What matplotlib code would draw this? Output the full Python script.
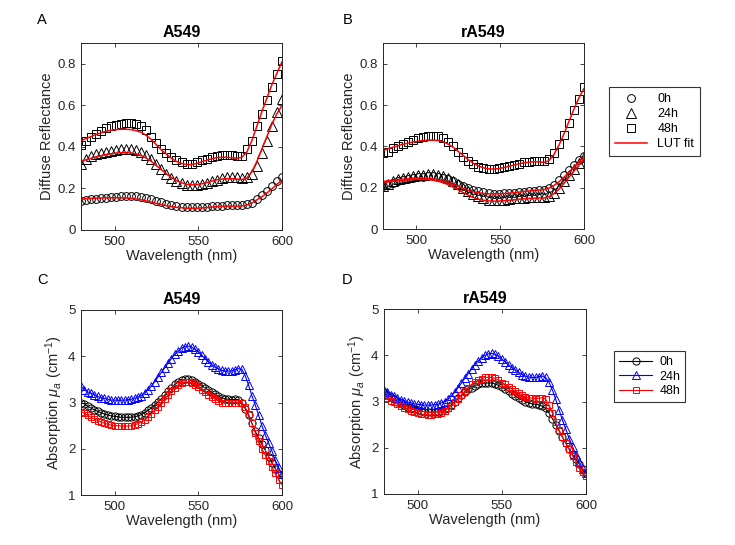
import matplotlib
matplotlib.use("Agg")
import matplotlib.pyplot as plt

plt.rcParams['font.family'] = ['Liberation Sans', 'DejaVu Sans']
plt.rcParams['mathtext.fontset'] = 'custom'
plt.rcParams['mathtext.rm'] = 'Liberation Sans'
plt.rcParams['mathtext.it'] = 'Liberation Sans:italic'

# Wavelength grid of the reflectance spectra (panels A, B)
wavelength = [480, 483, 486, 489, 492, 495, 498, 501, 504, 507, 510, 513, 516, 519, 522,
              525, 528, 531, 534, 537, 540, 543, 546, 549, 552, 555, 558, 561, 564, 567,
              570, 573, 576, 579, 582, 585, 588, 591, 594, 597, 600]

# Wavelength grid of the absorption spectra (panels C, D)
wavelength_abs = [480, 482, 484, 486, 488, 490, 492, 494, 496, 498, 500, 502, 504, 506, 508,
                  510, 512, 514, 516, 518, 520, 522, 524, 526, 528, 530, 532, 534, 536, 538,
                  540, 542, 544, 546, 548, 550, 552, 554, 556, 558, 560, 562, 564, 566, 568,
                  570, 572, 574, 576, 578, 580, 582, 584, 586, 588, 590, 592, 594, 596, 598, 600]

time_labels = ['0h', '24h', '48h']

# Panel A (A549) diffuse reflectance: measured and LUT fit
a549_refl_0h = [0.14, 0.145, 0.15, 0.15, 0.155, 0.155, 0.16, 0.16, 0.165, 0.165, 0.165, 0.165,
                0.16, 0.155, 0.15, 0.14, 0.135, 0.125, 0.12, 0.115, 0.11, 0.11, 0.11, 0.11,
                0.11, 0.11, 0.115, 0.115, 0.115, 0.12, 0.12, 0.12, 0.12, 0.125, 0.13, 0.15,
                0.17, 0.19, 0.21, 0.235, 0.253]
a549_refl_24h = [0.32, 0.34, 0.355, 0.365, 0.37, 0.375, 0.38, 0.385, 0.39, 0.39, 0.39, 0.385,
                 0.375, 0.36, 0.34, 0.32, 0.295, 0.27, 0.25, 0.235, 0.225, 0.215, 0.215, 0.215,
                 0.22, 0.225, 0.235, 0.24, 0.25, 0.255, 0.255, 0.255, 0.25, 0.255, 0.27, 0.31,
                 0.37, 0.43, 0.50, 0.57, 0.63]
a549_refl_48h = [0.41, 0.43, 0.45, 0.46, 0.475, 0.49, 0.50, 0.505, 0.51, 0.515, 0.515, 0.51,
                 0.50, 0.48, 0.45, 0.42, 0.39, 0.37, 0.35, 0.335, 0.325, 0.32, 0.32, 0.325,
                 0.335, 0.34, 0.35, 0.355, 0.36, 0.36, 0.36, 0.355, 0.355, 0.39, 0.43, 0.50,
                 0.56, 0.625, 0.69, 0.75, 0.815]
a549_fit_0h = [0.15, 0.151, 0.152, 0.153, 0.154, 0.155, 0.155, 0.155, 0.155, 0.154, 0.152, 0.149,
               0.145, 0.14, 0.134, 0.128, 0.122, 0.117, 0.113, 0.109, 0.107, 0.105, 0.105, 0.105,
               0.106, 0.108, 0.11, 0.112, 0.114, 0.115, 0.115, 0.115, 0.116, 0.12, 0.13, 0.145,
               0.16, 0.178, 0.198, 0.22, 0.24]
a549_fit_24h = [0.33, 0.338, 0.345, 0.352, 0.358, 0.363, 0.367, 0.37, 0.372, 0.372, 0.37, 0.366,
                0.358, 0.346, 0.33, 0.31, 0.29, 0.27, 0.252, 0.238, 0.227, 0.22, 0.217, 0.218,
                0.222, 0.228, 0.235, 0.241, 0.245, 0.247, 0.247, 0.245, 0.243, 0.25, 0.28, 0.33,
                0.39, 0.45, 0.51, 0.56, 0.60]
a549_fit_48h = [0.43, 0.44, 0.45, 0.46, 0.468, 0.475, 0.48, 0.483, 0.485, 0.485, 0.483, 0.478,
                0.47, 0.455, 0.435, 0.41, 0.385, 0.365, 0.345, 0.33, 0.32, 0.315, 0.315, 0.32,
                0.328, 0.336, 0.343, 0.348, 0.35, 0.35, 0.348, 0.345, 0.35, 0.375, 0.43, 0.50,
                0.57, 0.635, 0.70, 0.755, 0.81]

# Panel B (rA549) diffuse reflectance: measured and LUT fit
ra549_refl_0h = [0.21, 0.22, 0.225, 0.23, 0.235, 0.24, 0.245, 0.25, 0.25, 0.255, 0.255, 0.25,
                 0.245, 0.24, 0.23, 0.22, 0.21, 0.2, 0.19, 0.183, 0.177, 0.173, 0.17, 0.17,
                 0.172, 0.174, 0.176, 0.178, 0.18, 0.182, 0.185, 0.188, 0.19, 0.2, 0.215, 0.235,
                 0.26, 0.285, 0.31, 0.335, 0.355]
ra549_refl_24h = [0.21, 0.22, 0.23, 0.24, 0.245, 0.25, 0.255, 0.26, 0.262, 0.265, 0.265, 0.26,
                  0.255, 0.245, 0.232, 0.218, 0.2, 0.185, 0.17, 0.158, 0.148, 0.142, 0.14, 0.14,
                  0.142, 0.145, 0.148, 0.15, 0.152, 0.154, 0.155, 0.155, 0.155, 0.16, 0.175, 0.2,
                  0.23, 0.26, 0.29, 0.32, 0.35]
ra549_refl_48h = [0.37, 0.375, 0.39, 0.40, 0.41, 0.42, 0.43, 0.44, 0.445, 0.45, 0.45, 0.45,
                  0.44, 0.42, 0.40, 0.375, 0.35, 0.33, 0.315, 0.30, 0.295, 0.29, 0.29, 0.295,
                  0.30, 0.305, 0.31, 0.315, 0.325, 0.325, 0.33, 0.33, 0.33, 0.34, 0.37, 0.41,
                  0.455, 0.515, 0.575, 0.63, 0.685]
ra549_fit_0h = [0.23, 0.233, 0.236, 0.239, 0.241, 0.243, 0.245, 0.245, 0.245, 0.244, 0.242, 0.238,
                0.232, 0.225, 0.216, 0.206, 0.196, 0.187, 0.18, 0.175, 0.172, 0.17, 0.17, 0.17,
                0.171, 0.173, 0.175, 0.178, 0.181, 0.184, 0.186, 0.188, 0.19, 0.197, 0.21, 0.228,
                0.25, 0.275, 0.3, 0.325, 0.35]
ra549_fit_24h = [0.225, 0.228, 0.231, 0.234, 0.236, 0.238, 0.24, 0.24, 0.24, 0.239, 0.236, 0.231,
                 0.224, 0.214, 0.202, 0.189, 0.176, 0.163, 0.152, 0.144, 0.139, 0.136, 0.135, 0.135,
                 0.137, 0.139, 0.141, 0.144, 0.146, 0.148, 0.149, 0.15, 0.15, 0.156, 0.17, 0.192,
                 0.22, 0.25, 0.28, 0.31, 0.34]
ra549_fit_48h = [0.38, 0.388, 0.396, 0.403, 0.41, 0.416, 0.421, 0.425, 0.428, 0.43, 0.43, 0.428,
                 0.422, 0.41, 0.395, 0.375, 0.355, 0.335, 0.318, 0.305, 0.296, 0.291, 0.29, 0.292,
                 0.297, 0.303, 0.309, 0.315, 0.32, 0.323, 0.325, 0.325, 0.322, 0.33, 0.36, 0.405,
                 0.46, 0.52, 0.58, 0.635, 0.68]

# Panel C (A549) absorption coefficient
a549_mua_0h = [3.0, 2.97, 2.92, 2.88, 2.84, 2.81, 2.78, 2.75, 2.73, 2.71, 2.7, 2.69, 2.68, 2.68,
               2.68, 2.68, 2.69, 2.71, 2.74, 2.78, 2.83, 2.88, 2.95, 3.01, 3.08, 3.16, 3.24, 3.32,
               3.39, 3.44, 3.48, 3.5, 3.5, 3.48, 3.44, 3.4, 3.36, 3.32, 3.27, 3.22, 3.18, 3.14,
               3.1, 3.08, 3.07, 3.06, 3.07, 3.06, 3.0, 2.87, 2.72, 2.55, 2.38, 2.23, 2.1, 1.97,
               1.83, 1.7, 1.57, 1.45, 1.35]
a549_mua_24h = [3.35, 3.28, 3.23, 3.2, 3.17, 3.13, 3.1, 3.09, 3.07, 3.05, 3.05, 3.05, 3.05, 3.05,
                3.06, 3.07, 3.09, 3.12, 3.15, 3.21, 3.28, 3.35, 3.45, 3.55, 3.65, 3.75, 3.85, 3.95,
                4.04, 4.11, 4.18, 4.21, 4.22, 4.2, 4.15, 4.09, 4.02, 3.95, 3.88, 3.82, 3.77, 3.73,
                3.7, 3.68, 3.68, 3.68, 3.71, 3.73, 3.72, 3.58, 3.38, 3.15, 2.95, 2.73, 2.5, 2.3,
                2.12, 1.95, 1.75, 1.58, 1.45]
a549_mua_48h = [2.8, 2.77, 2.72, 2.68, 2.64, 2.61, 2.58, 2.55, 2.53, 2.51, 2.5, 2.5, 2.49, 2.49,
                2.49, 2.5, 2.52, 2.54, 2.58, 2.62, 2.68, 2.75, 2.83, 2.91, 3.0, 3.08, 3.16, 3.25,
                3.32, 3.38, 3.42, 3.44, 3.44, 3.42, 3.38, 3.33, 3.28, 3.23, 3.17, 3.12, 3.07, 3.03,
                3.0, 2.98, 2.98, 2.98, 2.99, 3.0, 3.0, 2.9, 2.75, 2.55, 2.35, 2.17, 2.0, 1.87,
                1.73, 1.6, 1.47, 1.33, 1.22]

# Panel D (rA549) absorption coefficient
ra549_mua_0h = [3.2, 3.15, 3.1, 3.05, 3.0, 2.96, 2.92, 2.88, 2.85, 2.83, 2.81, 2.79, 2.78, 2.77,
                2.77, 2.77, 2.78, 2.8, 2.83, 2.87, 2.93, 3.0, 3.07, 3.13, 3.2, 3.26, 3.3, 3.34,
                3.37, 3.39, 3.4, 3.4, 3.4, 3.38, 3.35, 3.31, 3.27, 3.22, 3.17, 3.12, 3.07, 3.03,
                3.0, 2.97, 2.95, 2.94, 2.93, 2.9, 2.85, 2.75, 2.63, 2.5, 2.37, 2.23, 2.1, 1.97,
                1.85, 1.75, 1.65, 1.53, 1.45]
ra549_mua_24h = [3.25, 3.2, 3.15, 3.12, 3.08, 3.04, 3.02, 2.99, 2.97, 2.95, 2.94, 2.93, 2.92, 2.92,
                 2.92, 2.93, 2.94, 2.97, 3.0, 3.05, 3.12, 3.2, 3.3, 3.4, 3.5, 3.6, 3.7, 3.8,
                 3.88, 3.95, 4.0, 4.03, 4.04, 4.02, 3.98, 3.92, 3.85, 3.79, 3.73, 3.68, 3.63, 3.58,
                 3.55, 3.53, 3.52, 3.52, 3.54, 3.55, 3.52, 3.42, 3.25, 3.05, 2.82, 2.6, 2.4, 2.2,
                 2.02, 1.85, 1.7, 1.55, 1.45]
ra549_mua_48h = [3.12, 3.07, 3.02, 2.98, 2.94, 2.9, 2.86, 2.83, 2.8, 2.77, 2.75, 2.73, 2.72, 2.71,
                 2.71, 2.72, 2.73, 2.76, 2.8, 2.85, 2.91, 2.98, 3.06, 3.14, 3.22, 3.3, 3.37, 3.42,
                 3.46, 3.49, 3.52, 3.52, 3.52, 3.5, 3.46, 3.41, 3.37, 3.32, 3.27, 3.22, 3.18, 3.14,
                 3.1, 3.08, 3.07, 3.06, 3.07, 3.08, 3.05, 2.92, 2.75, 2.55, 2.38, 2.23, 2.1, 1.97,
                 1.83, 1.7, 1.57, 1.47, 1.38]

markers = ['o', '^', 's']
refl_msizes = [5.6, 6.8, 5.4]
abs_msizes = [5.2, 6.2, 5.0]
abs_colors = ['black', '#0000ff', '#ff0000']
text_color = '#262626'

fig = plt.figure(figsize=(7.35, 5.45), dpi=100)
W, H = 735.0, 545.0


def make_axes(x0, x1, ytop, ybot):
    return fig.add_axes([x0 / W, 1 - ybot / H, (x1 - x0) / W, (ybot - ytop) / H])


def style(ax, ylim, yticks, ylabel, title):
    ax.set_xlim(480, 600)
    ax.set_xticks([500, 550, 600])
    ax.set_ylim(*ylim)
    ax.set_yticks(yticks)
    ax.tick_params(direction='in', top=True, right=True, length=3, width=0.6,
                   labelsize=9.5, colors=text_color, pad=4)
    for sp in ax.spines.values():
        sp.set_linewidth(0.7)
        sp.set_color(text_color)
    ax.set_xlabel('Wavelength (nm)', fontsize=10.5, color=text_color, labelpad=1)
    ax.set_ylabel(ylabel, fontsize=10.5, color=text_color, labelpad=2)
    ax.set_title(title, fontsize=11.5, fontweight='bold', color='black', pad=4)


axA = make_axes(81, 282, 43, 230)
axB = make_axes(383, 584, 43, 229)
axC = make_axes(81, 282, 310, 495)
axD = make_axes(384, 586, 309, 494)

refl_sets = [
    (axA, [a549_refl_0h, a549_refl_24h, a549_refl_48h], [a549_fit_0h, a549_fit_24h, a549_fit_48h], 'A549'),
    (axB, [ra549_refl_0h, ra549_refl_24h, ra549_refl_48h], [ra549_fit_0h, ra549_fit_24h, ra549_fit_48h], 'rA549'),
]
for ax, meas, fits, title in refl_sets:
    handles = []
    for m, ms, y, lab in zip(markers, refl_msizes, meas, time_labels):
        h, = ax.plot(wavelength, y, linestyle='none', marker=m, markersize=ms,
                     markerfacecolor='none', markeredgecolor='black', markeredgewidth=0.7,
                     label=lab)
        handles.append(h)
    for y in fits:
        hf, = ax.plot(wavelength, y, color='#ff0000', linewidth=1.1, label='LUT fit')
    handles.append(hf)
    style(ax, (0, 0.9), [0, 0.2, 0.4, 0.6, 0.8], 'Diffuse Reflectance', title)
    ax.set_yticklabels(['0', '0.2', '0.4', '0.6', '0.8'])

legB = fig.legend(handles=handles, labels=time_labels + ['LUT fit'], loc='upper left',
                  bbox_to_anchor=(603 / W, 1 - 81 / H), fontsize=9, frameon=True,
                  fancybox=False, edgecolor='black', handlelength=2.6, borderpad=0.45,
                  labelspacing=0.25, handletextpad=0.8)
legB.get_frame().set_linewidth(0.8)

abs_sets = [
    (axC, [a549_mua_0h, a549_mua_24h, a549_mua_48h], 'A549'),
    (axD, [ra549_mua_0h, ra549_mua_24h, ra549_mua_48h], 'rA549'),
]
for ax, series, title in abs_sets:
    hs = []
    for m, ms, c, y, lab in zip(markers, abs_msizes, abs_colors, series, time_labels):
        h, = ax.plot(wavelength_abs, y, color=c, linewidth=0.8, marker=m, markersize=ms,
                     markerfacecolor='none', markeredgecolor=c, markeredgewidth=0.7, label=lab)
        hs.append(h)
    style(ax, (1, 5), [1, 2, 3, 4, 5], r'Absorption $\mu_a$ (cm$^{-1}$)', title)

legD = fig.legend(handles=hs, labels=time_labels, loc='upper left',
                  bbox_to_anchor=(608 / W, 1 - 345 / H), fontsize=9, frameon=True,
                  fancybox=False, edgecolor='black', handlelength=2.6, borderpad=0.4,
                  labelspacing=0.2, handletextpad=0.6)
legD.get_frame().set_linewidth(0.8)

for lab, x, y in [('A', 37, 20), ('B', 343, 20), ('C', 37, 280), ('D', 342, 280)]:
    fig.text(x / W, 1 - y / H, lab, fontsize=10.5, color='black', ha='left', va='center')

fig.savefig('out.png', dpi=100, facecolor='white')
